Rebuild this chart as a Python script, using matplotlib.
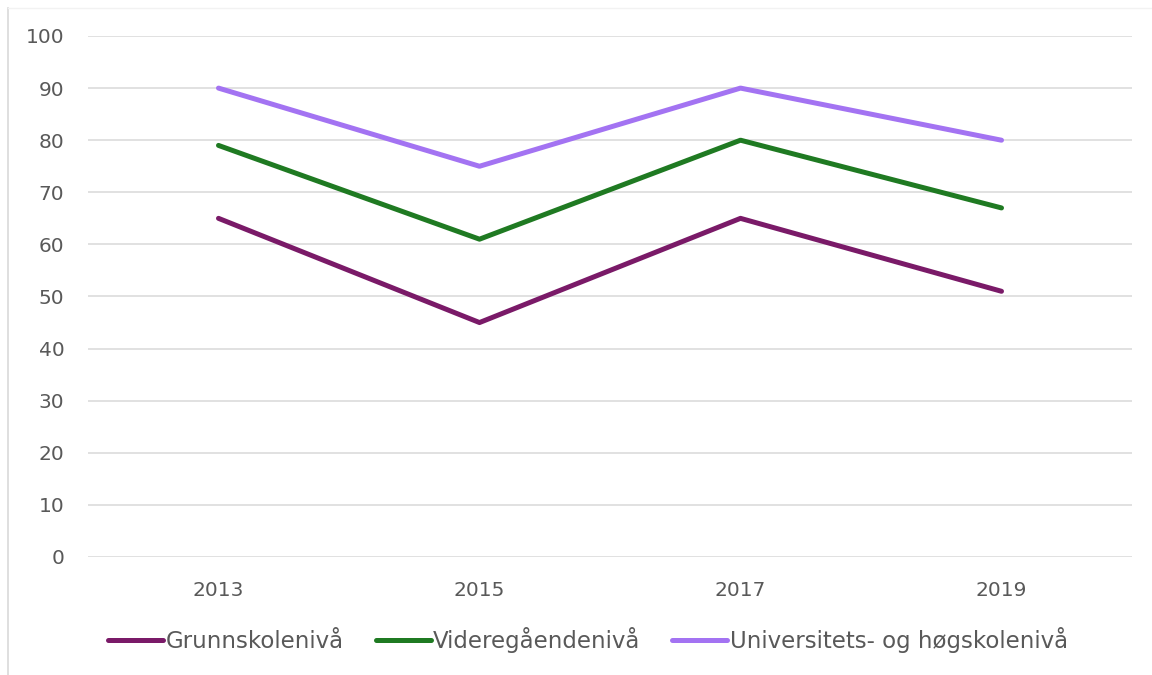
import matplotlib

matplotlib.use("Agg")
import matplotlib.pyplot as plt
from matplotlib.lines import Line2D

years = ["2013", "2015", "2017", "2019"]
grunnskole = [65, 45, 65, 51]
videregaende = [79, 61, 80, 67]
universitet = [90, 75, 90, 80]

series = [
    ("Grunnskolenivå", grunnskole, "#7a1a68"),
    ("Videregåendenivå", videregaende, "#1f7a22"),
    ("Universitets- og høgskolenivå", universitet, "#a373f2"),
]

plt.rcParams["font.family"] = ["DejaVu Sans"]
text_col = "#595959"

fig = plt.figure(figsize=(11.52, 6.75), dpi=100)
W, H = 1152, 675
ax = fig.add_axes([88 / W, 1 - 557 / H, (1132 - 88) / W, (557 - 36) / H])

x = list(range(len(years)))
for name, vals, col in series:
    ax.plot(x, vals, color=col, lw=3.6, solid_capstyle="round", label=name)

ax.set_xlim(-0.5, len(years) - 0.5)
ax.set_ylim(0, 100)
ax.set_yticks(range(0, 101, 10))
ax.set_xticks(x)
ax.set_xticklabels(years)
ax.grid(axis="y", color="#d9d9d9", lw=1.1)
ax.set_axisbelow(True)
for s in ax.spines.values():
    s.set_visible(False)
ax.tick_params(length=0, labelsize=14.5, colors=text_col)
ax.tick_params(axis="y", pad=17)
ax.tick_params(axis="x", pad=17)

leg = fig.legend(
    loc="center",
    bbox_to_anchor=(588 / W, 1 - 640 / H),
    ncol=3,
    frameon=False,
    fontsize=16.5,
    handlelength=2.4,
    handletextpad=0.1,
    columnspacing=1.4,
)
for t in leg.get_texts():
    t.set_color(text_col)

# faint outer frame of the chart box
fig.add_artist(Line2D([8 / W, 8 / W], [0, 1 - 8 / H], color="#d9d9d9", lw=1.2))
fig.add_artist(Line2D([8 / W, 1], [1 - 8 / H, 1 - 8 / H], color="#f2f2f2", lw=1.0))

fig.savefig("out.png", dpi=100)
